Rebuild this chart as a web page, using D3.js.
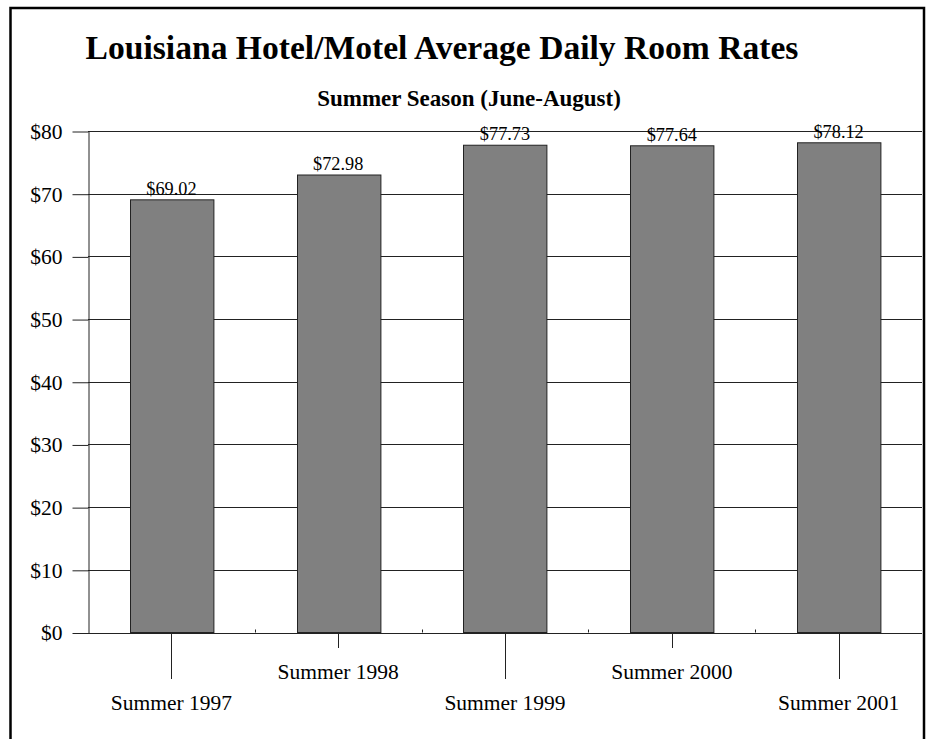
<!DOCTYPE html>
<html>
<head>
<meta charset="utf-8">
<script src="https://cdn.jsdelivr.net/npm/d3@7"></script>
<style>
  body { margin: 0; background: #fff; }
  text { font-family: "Liberation Serif", "Times New Roman", serif; }
</style>
</head>
<body>
<svg id="chart" width="928" height="739"></svg>
<script>
const seasons = ['Summer 1997', 'Summer 1998', 'Summer 1999', 'Summer 2000', 'Summer 2001']
const rates = [69.02, 72.98, 77.73, 77.64, 78.12]
const yTicks = [0, 10, 20, 30, 40, 50, 60, 70, 80]

const data = seasons.map((s, i) => ({season: s, rate: rates[i], i: i}))

const svg = d3.select('#chart')

const plotLeft = 88
const plotRight = 922
const plotTop = 131
const plotBottom = 632.5

const x = d3.scaleBand()
  .domain(seasons)
  .range([plotLeft, plotRight])
  .paddingInner(0.5)
  .paddingOuter(0.25)

const y = d3.scaleLinear()
  .domain([0, 80])
  .range([plotBottom, plotTop])

// outer frame
svg.append('rect')
  .attr('x', 10.5)
  .attr('y', 8)
  .attr('width', 913.5)
  .attr('height', 760)
  .attr('fill', 'none')
  .attr('stroke', '#000')
  .attr('stroke-width', 2.5)

svg.append('text')
  .attr('x', 442)
  .attr('y', 59)
  .attr('text-anchor', 'middle')
  .attr('font-size', 33.6)
  .attr('font-weight', 'bold')
  .text('Louisiana Hotel/Motel Average Daily Room Rates')

svg.append('text')
  .attr('x', 469)
  .attr('y', 106)
  .attr('text-anchor', 'middle')
  .attr('font-size', 23)
  .attr('font-weight', 'bold')
  .text('Summer Season (June-August)')

// gridlines
svg.append('g')
  .selectAll('line')
  .data(yTicks)
  .join('line')
  .attr('x1', plotLeft)
  .attr('x2', plotRight)
  .attr('y1', d => Math.round(y(d)) + 0.5)
  .attr('y2', d => Math.round(y(d)) + 0.5)
  .attr('stroke', '#222')
  .attr('stroke-width', 1)

// y axis
const yAxis = svg.append('g')
  .attr('transform', `translate(${plotLeft + 0.5},0.5)`)
  .call(d3.axisLeft(y).tickValues(yTicks).tickSize(16).tickSizeOuter(0).tickPadding(10).tickFormat(d => '$' + d))
yAxis.selectAll('path, line').attr('stroke', '#222')
yAxis.selectAll('text')
  .attr('font-size', 21.5)
  .attr('fill', '#000')
  .attr('font-family', '"Liberation Serif", serif')

// bars
svg.append('g')
  .selectAll('rect')
  .data(data)
  .join('rect')
  .attr('x', d => Math.round(x(d.season)) + 0.5)
  .attr('y', d => y(d.rate))
  .attr('width', x.bandwidth())
  .attr('height', d => plotBottom - y(d.rate))
  .attr('fill', '#808080')
  .attr('stroke', '#222')
  .attr('stroke-width', 1)

// value labels
svg.append('g')
  .selectAll('text')
  .data(data)
  .join('text')
  .attr('x', d => x(d.season) + x.bandwidth() / 2)
  .attr('y', d => y(d.rate) - 5)
  .attr('text-anchor', 'middle')
  .attr('font-size', 18.3)
  .text(d => d3.format('$.2f')(d.rate))

// category ticks, staggered
const cx = d => Math.round(x(d.season) + x.bandwidth() / 2) + 0.5
svg.append('g')
  .selectAll('line')
  .data(data)
  .join('line')
  .attr('x1', cx)
  .attr('x2', cx)
  .attr('y1', plotBottom)
  .attr('y2', d => d.i % 2 === 0 ? 679 : 648)
  .attr('stroke', '#222')

// small marks at the band boundaries
svg.append('g')
  .selectAll('line')
  .data(d3.range(1, seasons.length))
  .join('line')
  .attr('x1', d => Math.round(plotLeft + d * x.step()) + 0.5)
  .attr('x2', d => Math.round(plotLeft + d * x.step()) + 0.5)
  .attr('y1', plotBottom)
  .attr('y2', plotBottom - 3)
  .attr('stroke', '#222')

svg.append('g')
  .selectAll('text')
  .data(data)
  .join('text')
  .attr('x', d => x(d.season) + x.bandwidth() / 2)
  .attr('y', d => d.i % 2 === 0 ? 710 : 679)
  .attr('text-anchor', 'middle')
  .attr('font-size', 21.5)
  .text(d => d.season)
</script>
</body>
</html>
